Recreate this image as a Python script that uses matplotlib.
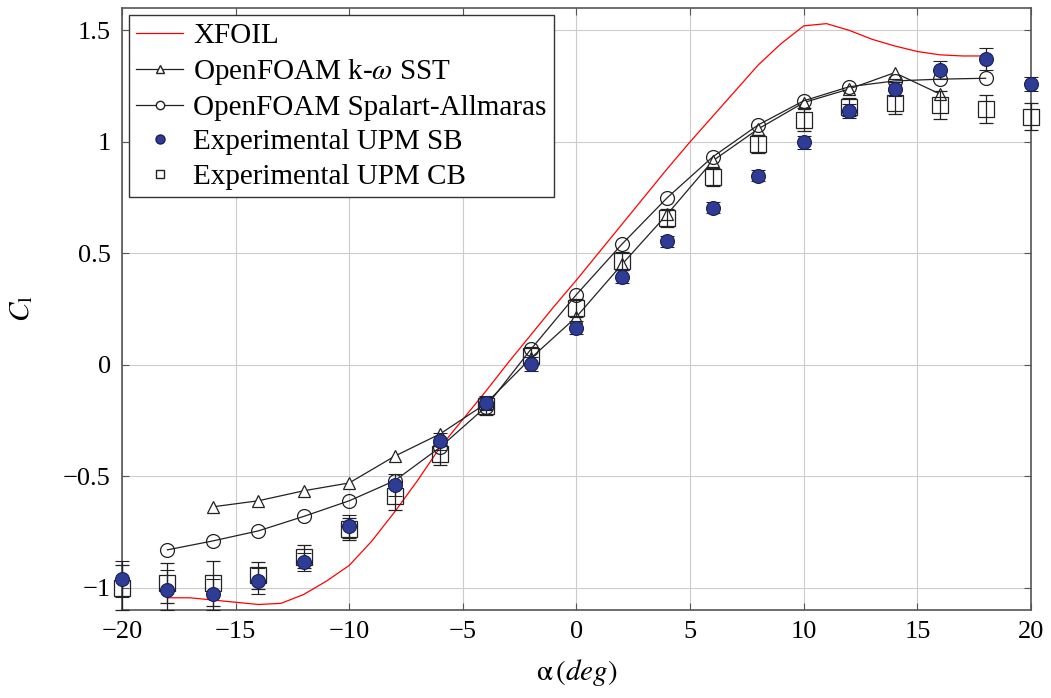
import numpy as np
import matplotlib
matplotlib.use("Agg")
import matplotlib.pyplot as plt
from matplotlib.lines import Line2D

# --- Données ---
alpha_xfoil = [-18, -17, -16, -15, -14, -13, -12, -11, -10, -9, -8, -7, -6, -5, -4, -3, -2, -1,
               0, 1, 2, 3, 4, 5, 6, 7, 8, 9, 10, 11, 12, 13, 14, 15, 16, 17, 18]
cl_xfoil = [-1.045, -1.045, -1.055, -1.065, -1.075, -1.07, -1.03, -0.97, -0.9, -0.79, -0.66, -0.52,
            -0.37, -0.245, -0.12, 0.01, 0.135, 0.26, 0.38, 0.505, 0.63, 0.755, 0.88, 1.0, 1.115,
            1.23, 1.345, 1.44, 1.52, 1.53, 1.5, 1.46, 1.43, 1.405, 1.39, 1.385, 1.385]

alpha_sst = [-16, -14, -12, -10, -8, -6, -4, -2, 0, 2, 4, 6, 8, 10, 12, 14, 16]
cl_sst = [-0.637, -0.61, -0.565, -0.53, -0.41, -0.31, -0.175, 0.03, 0.215, 0.45, 0.676, 0.915,
          1.058, 1.176, 1.237, 1.31, 1.214]

alpha_sa = [-18, -16, -14, -12, -10, -8, -6, -4, -2, 0, 2, 4, 6, 8, 10, 12, 14, 16, 18]
cl_sa = [-0.83, -0.79, -0.745, -0.68, -0.61, -0.52, -0.37, -0.19, 0.07, 0.315, 0.541, 0.75,
         0.933, 1.076, 1.184, 1.247, 1.273, 1.281, 1.285]

alpha_exp = [-20, -18, -16, -14, -12, -10, -8, -6, -4, -2, 0, 2, 4, 6, 8, 10, 12, 14, 16, 18, 20]
cl_sb = [-0.96, -1.01, -1.03, -0.97, -0.885, -0.725, -0.538, -0.344, -0.17, 0.004, 0.167, 0.395,
         0.553, 0.704, 0.848, 0.997, 1.139, 1.236, 1.323, 1.371, 1.259]
err_sb = [0.08, 0.09, 0.07, 0.06, 0.04, 0.05, 0.05, 0.04, 0.03, 0.03, 0.03, 0.03,
          0.025, 0.025, 0.025, 0.03, 0.03, 0.03, 0.04, 0.05, 0.03]
cl_cb = [-1.0, -0.98, -0.98, -0.945, -0.86, -0.735, -0.59, -0.40, -0.185, 0.04, 0.256, 0.466,
         0.66, 0.843, 0.992, 1.1, 1.157, 1.176, 1.166, 1.147, 1.112]
err_cb = [0.1, 0.09, 0.1, 0.06, 0.05, 0.05, 0.06, 0.05, 0.04, 0.04, 0.04, 0.04,
          0.04, 0.04, 0.04, 0.05, 0.04, 0.05, 0.064, 0.062, 0.06]

plt.rcParams['font.family'] = ['Liberation Serif', 'DejaVu Serif']
plt.rcParams['mathtext.fontset'] = 'stix'

fig = plt.figure(figsize=(10.51, 6.98), dpi=100)
ax = fig.add_axes([0.116, 0.126, 0.865, 0.8625])

ax.plot(alpha_xfoil, cl_xfoil, color='red', lw=0.9, zorder=3)
ax.plot(alpha_sst, cl_sst, color='#222222', lw=0.9, marker='^', ms=8, mfc='white',
        mec='#222222', mew=0.9, zorder=4)
ax.plot(alpha_sa, cl_sa, color='#222222', lw=0.9, marker='o', ms=10, mfc='none',
        mec='#222222', mew=0.9, zorder=4)
ax.errorbar(alpha_exp, cl_cb, yerr=err_cb, fmt='s', ms=11, mfc='none', mec='#222222',
            mew=0.9, ecolor='#222222', elinewidth=0.9, capsize=5, capthick=0.9,
            zorder=5, clip_on=False)
ax.errorbar(alpha_exp, cl_sb, yerr=err_sb, fmt='o', ms=10, mfc='#2e3c96', mec='#18205a',
            mew=0.8, ecolor='#222222', elinewidth=0.9, capsize=5, capthick=0.9,
            zorder=6, clip_on=False)

ax.set_xlim(-20, 20)
ax.set_ylim(-1.1, 1.6)
ax.set_xticks(np.arange(-20, 21, 5))
ax.set_yticks([-1, -0.5, 0, 0.5, 1, 1.5])
ax.set_yticklabels(['\u22121', '\u22120.5', '0', '0.5', '1', '1.5'])
ax.set_xticklabels(['\u221220', '\u221215', '\u221210', '\u22125', '0', '5', '10', '15', '20'])
ax.grid(True, color='#cccccc', lw=0.8)
ax.set_axisbelow(True)
ax.tick_params(direction='in', top=True, right=True, labelsize=19, length=5, pad=8,
               color='#555555')
for s in ax.spines.values():
    s.set_linewidth(1.2)
    s.set_color('#555555')

ax.set_xlabel(r'$\mathrm{\alpha}\,(deg)$', fontsize=21, labelpad=10)
ax.set_ylabel(r'$C_\mathrm{l}$', fontsize=21)
ax.yaxis.set_label_coords(-0.095, 0.5)

handles = [
    Line2D([], [], color='red', lw=0.9),
    Line2D([], [], color='#222222', lw=0.9, marker='^', ms=6, mfc='white', mec='#222222'),
    Line2D([], [], color='#222222', lw=0.9, marker='o', ms=6, mfc='white', mec='#222222'),
    Line2D([], [], ls='none', marker='o', ms=6.5, mfc='#2e3c96', mec='#18205a'),
    Line2D([], [], ls='none', marker='s', ms=6, mfc='white', mec='#222222'),
]
labels = ['XFOIL', r'OpenFOAM k-$\omega$ SST', 'OpenFOAM Spalart-Allmaras',
          'Experimental UPM SB', 'Experimental UPM CB']
ax.legend(handles, labels, loc='upper left', fontsize=21, frameon=True, fancybox=False,
          edgecolor='#333333', framealpha=1, borderaxespad=0.25, handlelength=1.6,
          handletextpad=0.35, labelspacing=0.27, borderpad=0.25)

fig.savefig('out.png', dpi=100)
